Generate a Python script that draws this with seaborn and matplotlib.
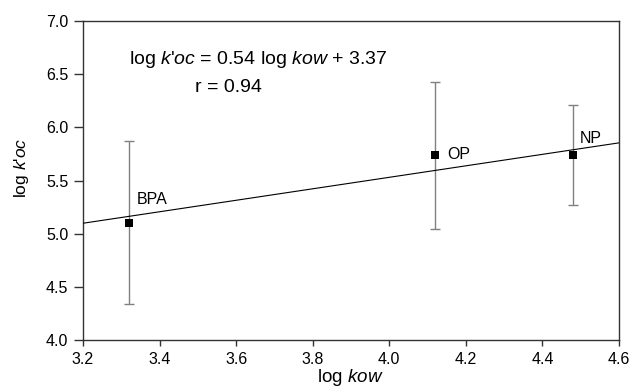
import matplotlib
matplotlib.use("Agg")
import matplotlib.pyplot as plt
import seaborn as sns
import numpy as np
import pandas as pd

# Data
compounds = ["BPA", "OP", "NP"]
log_kow = [3.32, 4.12, 4.48]
log_koc = [5.10, 5.74, 5.74]
koc_low = [4.34, 5.04, 5.27]
koc_high = [5.87, 6.43, 6.21]
slope = 0.54
intercept = 3.37
r_value = 0.94
x_ticks = [3.2, 3.4, 3.6, 3.8, 4.0, 4.2, 4.4, 4.6]
y_ticks = [4.0, 4.5, 5.0, 5.5, 6.0, 6.5, 7.0]

sns.set_theme(style="ticks")
plt.rcParams["font.family"] = ["Liberation Sans", "DejaVu Sans"]
plt.rcParams["mathtext.fontset"] = "custom"
plt.rcParams["mathtext.rm"] = "Liberation Sans"
plt.rcParams["mathtext.it"] = "Liberation Sans:italic"
plt.rcParams["text.color"] = "black"
plt.rcParams["axes.labelcolor"] = "black"
plt.rcParams["xtick.labelcolor"] = "black"
plt.rcParams["ytick.labelcolor"] = "black"

df = pd.DataFrame({"kow": log_kow, "koc": log_koc, "lo": koc_low, "hi": koc_high, "name": compounds})

fig = plt.figure(figsize=(6.31, 3.90), dpi=100)
ax = fig.add_axes([83 / 631, 1 - 340 / 390, (619 - 83) / 631, (340 - 21) / 390])

# error bars
yerr = np.array([df["koc"] - df["lo"], df["hi"] - df["koc"]])
ax.errorbar(df["kow"], df["koc"], yerr=yerr, fmt="none", ecolor="#808080",
            elinewidth=1.0, capsize=3.8, capthick=1.0, zorder=2)

# regression line
xl = np.array([x_ticks[0], x_ticks[-1]])
line_df = pd.DataFrame({"x": xl, "y": slope * xl + intercept})
sns.lineplot(data=line_df, x="x", y="y", color="black", linewidth=0.8, ax=ax, zorder=3)

# points
sns.scatterplot(data=df, x="kow", y="koc", marker="s", s=26, color="black",
                edgecolor="black", linewidth=0, ax=ax, zorder=4)

# point labels
offsets = {"BPA": (5.8, 17), "OP": (8.4, 0), "NP": (4.5, 12)}
for n, xv, yv in zip(compounds, log_kow, log_koc):
    dx, dy = offsets[n]
    ax.annotate(n, (xv, yv), xytext=(dx, dy), textcoords="offset points",
                ha="left", va="center", fontsize=11.5, color="black")

ax.text((258 - 83) / 536, 1 - (60 - 21) / 319,
        r"log $k$'$oc$ = 0.54 log $kow$ + 3.37",
        transform=ax.transAxes, ha="center", va="center", fontsize=14, color="black")
ax.text((228 - 83) / 536, 1 - (87 - 21) / 319, f"r = {r_value:.2f}",
        transform=ax.transAxes, ha="center", va="center", fontsize=14, color="black")

ax.set_xlim(x_ticks[0], x_ticks[-1])
ax.set_ylim(y_ticks[0], y_ticks[-1])
ax.set_xticks(x_ticks)
ax.set_yticks(y_ticks)
ax.set_xticklabels([f"{t:.1f}" for t in x_ticks], fontsize=11.5)
ax.set_yticklabels([f"{t:.1f}" for t in y_ticks], fontsize=11.5)
ax.tick_params(axis="x", direction="out", length=4.3, width=1.0, color="#333333",
               labelcolor="black", pad=4)
ax.tick_params(axis="y", direction="out", length=6.5, width=1.0, color="#333333",
               labelcolor="black", pad=4)

ax.set_xlabel(r"log $kow$", fontsize=13.5, color="black")
ax.set_ylabel(r"log $k$'$oc$", fontsize=12.5, color="black")
ax.xaxis.set_label_coords(0.498, -0.086)
ax.xaxis.label.set_va("top")
ax.yaxis.set_label_coords(-0.097, 0.538)

for s in ax.spines.values():
    s.set_visible(True)
    s.set_color("#333333")
    s.set_linewidth(1.0)

fig.savefig("out.png", dpi=100)
